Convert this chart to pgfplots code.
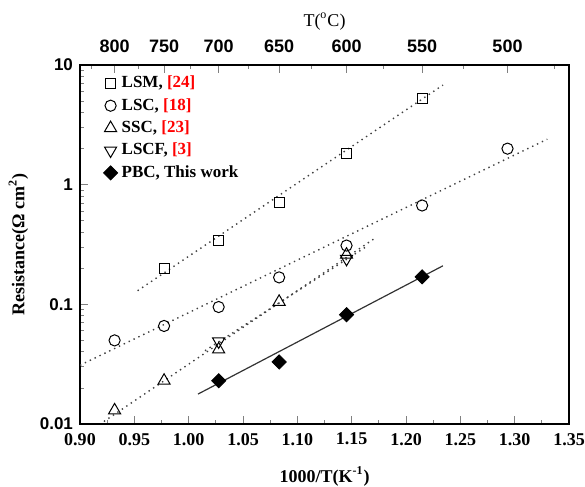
\documentclass[border=0pt]{standalone}
\usepackage{fontspec}
\setmainfont{Liberation Serif}
\setsansfont{Liberation Sans}
\usepackage{xcolor}
\usepackage{pgfplots}
\pgfplotsset{compat=1.18}

\begin{document}
\begin{tikzpicture}
\pgfplotsset{every axis/.append style={scale only axis,width=244.5pt,height=179.5pt,
  xmin=0.9,xmax=1.35,axis line style={line width=0.6pt},
  tick style={line width=0.5pt},major tick length=4pt,minor tick length=2pt,
  /pgf/number format/assume math mode=true}}
\tikzset{fitline/.style={black!75,line width=0.7pt,dash pattern=on 0.7pt off 2pt}}

% main axis: 1000/T vs resistance
\begin{semilogyaxis}[
  ymin=0.01,ymax=10,
  xtick={0.90,0.95,1.00,1.05,1.10,1.15,1.20,1.25,1.30,1.35},
  xticklabels={0.90,0.95,1.00,1.05,1.10,1.15,1.20,1.25,1.30,1.35},
  minor x tick num=1,
  ytick={0.01,0.1,1,10},yticklabels={0.01,0.1,1,10},
  minor ytick={0.02,0.03,0.04,0.05,0.06,0.07,0.08,0.09,
    0.2,0.3,0.4,0.5,0.6,0.7,0.8,0.9,2,3,4,5,6,7,8,9},
  xtick pos=bottom,ytick pos=left,tick align=inside,
  x tick label style={font=\bfseries\fontsize{9}{10}\selectfont,yshift=-1pt},
  y tick label style={font=\sffamily\bfseries\fontsize{8.5}{10}\selectfont},
  xlabel={\bfseries 1000/T(K\textsuperscript{-1})},
  xlabel style={font=\fontsize{9}{10}\selectfont,yshift=-4pt},
  ylabel={\bfseries Resistance(Ω cm\textsuperscript{2})},
  ylabel style={font=\fontsize{9}{10}\selectfont,yshift=-1pt},
  legend style={draw=none,fill=none,at={(0.035,0.993)},anchor=north west,
    font=\bfseries\fontsize{8.5}{9}\selectfont,row sep=-0.2pt,
    /tikz/every even column/.append style={column sep=10pt}},
  legend cell align=left,
]
\coordinate (bl) at (rel axis cs:0,0);
\coordinate (tr) at (rel axis cs:1,1);

\addplot[only marks,mark=square,mark size=2.5pt,mark options={line width=0.5pt}] coordinates {
 (0.97737,0.20) (1.02759,0.34) (1.08325,0.71) (1.14528,1.82) (1.21485,5.3)};
\addlegendentry{LSM, \textcolor{red}{[24]}}
\addplot[only marks,mark=o,mark size=2.8pt,mark options={line width=0.5pt}] coordinates {
 (0.93184,0.050) (0.97737,0.066) (1.02759,0.095) (1.08325,0.168) (1.14528,0.31) (1.21485,0.67) (1.29341,2.0)};
\addlegendentry{LSC, \textcolor{red}{[18]}}
\addplot[only marks,mark=triangle,mark size=3.5pt,mark options={line width=0.5pt}] coordinates {
 (0.93184,0.013) (0.97737,0.023) (1.02759,0.042) (1.08325,0.105) (1.14528,0.26)};
\addlegendentry{SSC, \textcolor{red}{[23]}}
\addplot[only marks,mark=triangle,mark size=3.5pt,mark options={line width=0.5pt,rotate=180}] coordinates {
 (1.02759,0.049) (1.14528,0.24)};
\addlegendentry{LSCF, \textcolor{red}{[3]}}
\addplot[only marks,mark=square*,mark size=2.5pt,mark options={rotate=45,fill=black}] coordinates {
 (1.02759,0.023) (1.08325,0.033) (1.14528,0.082) (1.21485,0.17)};
\addlegendentry{PBC, This work}

% fitted lines
\addplot[fitline,forget plot] coordinates {(0.953,0.13) (1.234,6.8)};
\addplot[fitline,forget plot] coordinates {(0.900,0.031) (1.330,2.4)};
\addplot[fitline,forget plot] coordinates {(0.922,0.0105) (1.170,0.35)};
\addplot[fitline,forget plot] coordinates {(1.015,0.041) (1.165,0.31)};
\addplot[black!80,line width=0.6pt,forget plot] coordinates {(1.0086,0.0178) (1.234,0.21)};
\end{semilogyaxis}

% top axis: temperature in degC
\begin{axis}[
  ymin=0,ymax=1,axis x line*=top,axis y line=none,tick align=inside,
  xtick={0.93184,0.97737,1.02759,1.08325,1.14528,1.21485,1.29341},
  xticklabels={800,750,700,650,600,550,500},
  minor xtick={0.91062,0.95406,1.00185,1.05469,1.11340,1.17904,1.25290,1.33663},
  x tick label style={font=\sffamily\bfseries\fontsize{9}{10}\selectfont,yshift=2.5pt},
  xlabel={T(\textsuperscript{o}C)},
  xlabel style={font=\fontsize{9}{10}\selectfont,yshift=-2pt},
]
\end{axis}

\pgfresetboundingbox
\path ([shift={(-40pt,-31pt)}]bl) rectangle ([shift={(8pt,32.5pt)}]tr);
\end{tikzpicture}
\end{document}
